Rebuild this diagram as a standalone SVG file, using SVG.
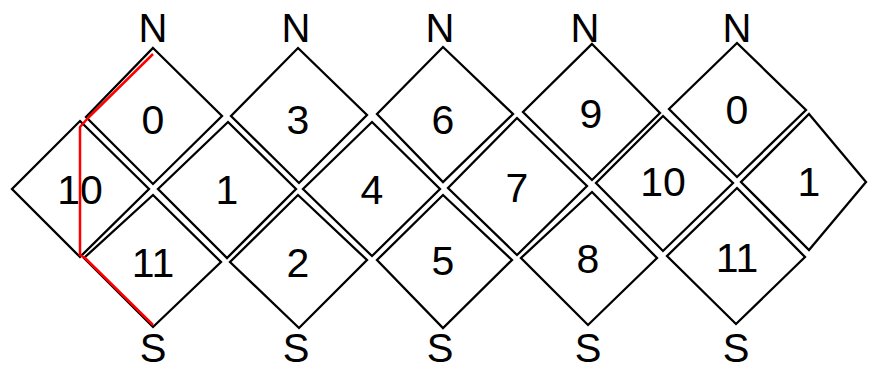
<svg xmlns="http://www.w3.org/2000/svg" width="869" height="371" viewBox="0 0 869 371">
<style>
.d{fill:none;stroke:#000;stroke-width:2.3;stroke-linejoin:miter}
.t{font-family:"Liberation Sans",Arial,sans-serif;font-size:41px;fill:#000;text-anchor:middle}
.p{font-size:40px}
.r{fill:none;stroke:#ff0000;stroke-width:2.5;stroke-linejoin:round}
</style>
<rect width="869" height="371" fill="#fff"/>
<g id="labels">
<text class="t p" x="153" y="42">N</text>
<text class="t p" x="296" y="42">N</text>
<text class="t p" x="440" y="42">N</text>
<text class="t p" x="585" y="42">N</text>
<text class="t p" x="737" y="42">N</text>
<text class="t p" x="153" y="362">S</text>
<text class="t p" x="296" y="362">S</text>
<text class="t p" x="440" y="362">S</text>
<text class="t p" x="588" y="362">S</text>
<text class="t p" x="736" y="362">S</text>
</g>
<g id="d0a"><polygon class="d" points="153,48 222,116 153,184 86,117"/><text class="t" x="153" y="134">0</text></g>
<g id="d10a"><polygon class="d" points="80,121 149,189 80,257 12,189"/><text class="t" x="80" y="204">10</text></g>
<g id="d11a"><polygon class="d" points="153,195 221,262 153,327 84,258"/><text class="t" x="153" y="277">11</text></g>
<g id="d1a"><polygon class="d" points="228,122 296,189 227,258 158,189"/><text class="t" x="227" y="204">1</text></g>
<g id="d3"><polygon class="d" points="298,48 367,115 299,183 231,116"/><text class="t" x="298" y="134">3</text></g>
<g id="d2"><polygon class="d" points="298,195 367,260 299,328 230,262"/><text class="t" x="298" y="277">2</text></g>
<g id="d4"><polygon class="d" points="372,122 440,189 372,256 303,189"/><text class="t" x="372" y="204">4</text></g>
<g id="d6"><polygon class="d" points="443,47 513,114 443,182 377,114"/><text class="t" x="443" y="134">6</text></g>
<g id="d5"><polygon class="d" points="443,195 512,260 443,328 377,260"/><text class="t" x="443" y="275">5</text></g>
<g id="d7"><polygon class="d" points="517,118 587,186 517,255 448,188"/><text class="t" x="517" y="202">7</text></g>
<g id="d9"><polygon class="d" points="592,44 660,113 592,180 523,112"/><text class="t" x="591" y="128">9</text></g>
<g id="d8"><polygon class="d" points="592,192 657,258 588,325 521,258"/><text class="t" x="588" y="273">8</text></g>
<g id="d10b"><polygon class="d" points="663,116 733,183 663,251 596,183"/><text class="t" x="663" y="196">10</text></g>
<g id="d0b"><polygon class="d" points="737,43 806,110 737,177 669,109"/><text class="t" x="737" y="124">0</text></g>
<g id="d11b"><polygon class="d" points="737,188 805,257 736,324 667,256"/><text class="t" x="737" y="272">11</text></g>
<g id="d1b"><polygon class="d" points="809,114 866,182 809,250 741,182"/><text class="t" x="809" y="196">1</text></g>
<g id="connectors">
<polyline class="r" points="153,54 88,118 80,127 80,255 85,258 153,325"/>
</g>
</svg>
